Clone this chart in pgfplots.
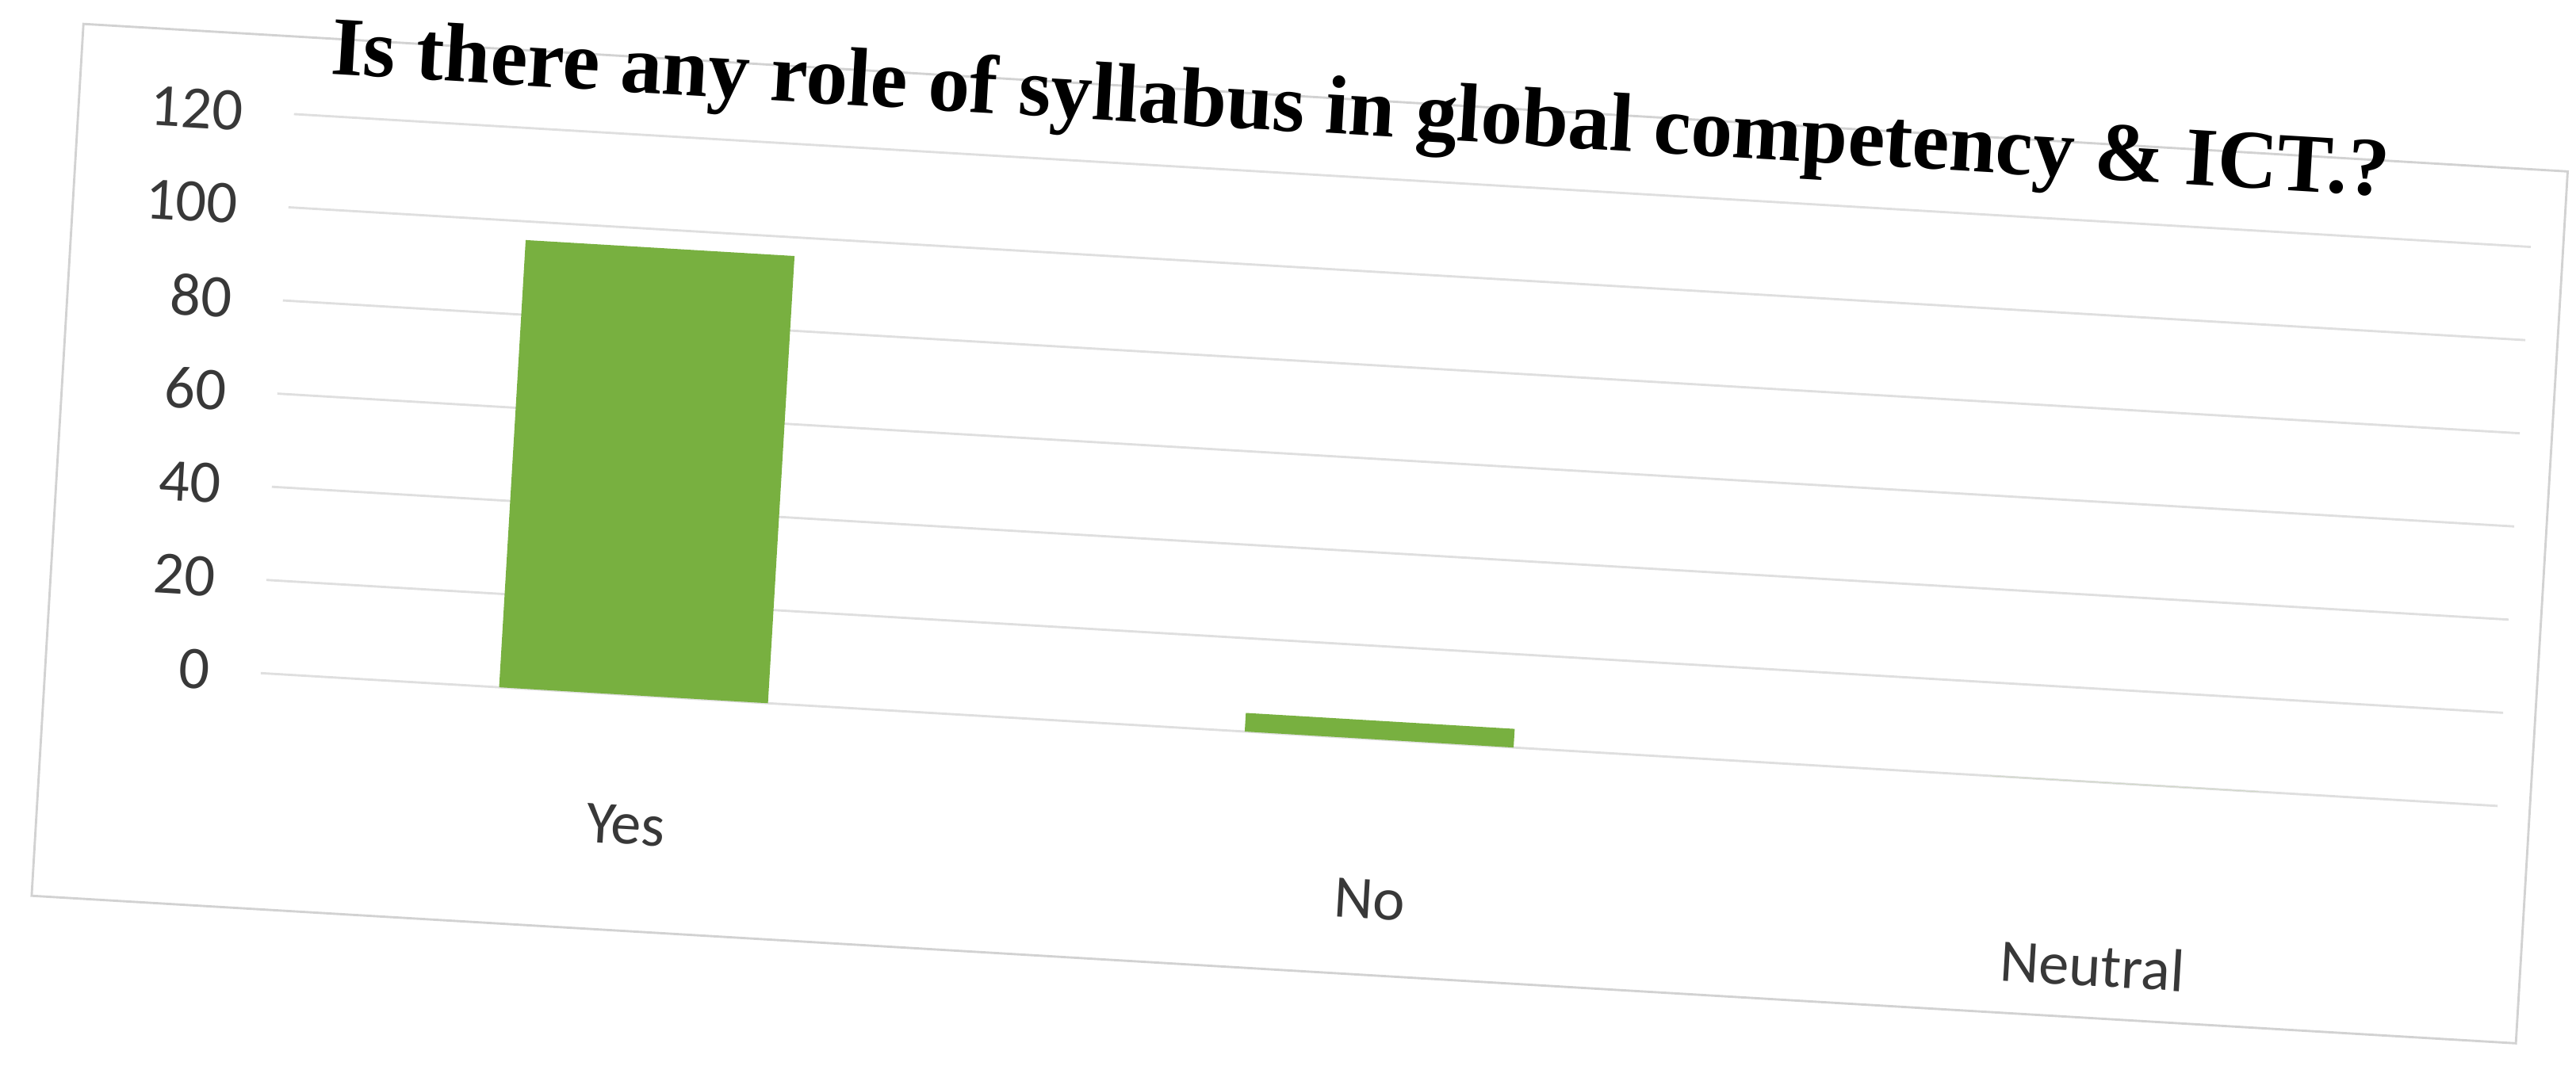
\documentclass[border=0pt]{standalone}
\usepackage{pgfplots}
\pgfplotsset{compat=1.18}
\usepackage{fontspec}
\setmainfont{Carlito}
\newfontfamily\titlefont{Liberation Serif}
\definecolor{bargreen}{HTML}{78B040}
\definecolor{ticktext}{HTML}{383838}
\begin{document}
\begin{tikzpicture}
% the scanned chart is slightly tilted
\begin{scope}[rotate=-3.4, transform shape]
\begin{axis}[
  width=20.8cm, height=5.2cm,
  scale only axis,
  clip=false,
  ybar, bar width=2.5cm,
  xmin=-0.5, xmax=2.5,
  ymin=0, ymax=120,
  xtick={0,1,2},
  xticklabels={Yes,\raisebox{-0.28cm}[0.36cm][0pt]{No},\raisebox{-0.48cm}[0.39cm][0pt]{Neutral\hspace{0.4cm}}},
  ytick={0,20,...,120},
  ymajorgrids,
  grid style={gray!25, line width=0.6pt},
  axis line style={draw=none},
  major tick length=0pt,
  /pgf/number format/assume math mode=true,
  ticklabel style={font=\fontsize{16}{19}\selectfont, text=ticktext},
  yticklabel style={xshift=-0.35cm},
  xticklabel style={yshift=-0.9cm},
  title={\titlefont\bfseries Is there any role of syllabus in global competency \& ICT.?},
  title style={font=\fontsize{22}{26}\selectfont, at={(0.475,1)}, anchor=base, yshift=0.18cm},
]
\addplot[fill=bargreen, draw=none] coordinates {
  (0, 96)
  (1, 4)
  (2, 0)
};
\draw[gray!35, line width=0.6pt]
  ([xshift=-2.0cm, yshift=-2.19cm]rel axis cs:0,0) rectangle
  ([xshift=0.3cm, yshift=0.72cm]rel axis cs:1,1);
\end{axis}
\end{scope}
\pgfresetboundingbox
\useasboundingbox (-2.42,-3.86) rectangle (21.49,6.25);
\end{tikzpicture}
\end{document}
